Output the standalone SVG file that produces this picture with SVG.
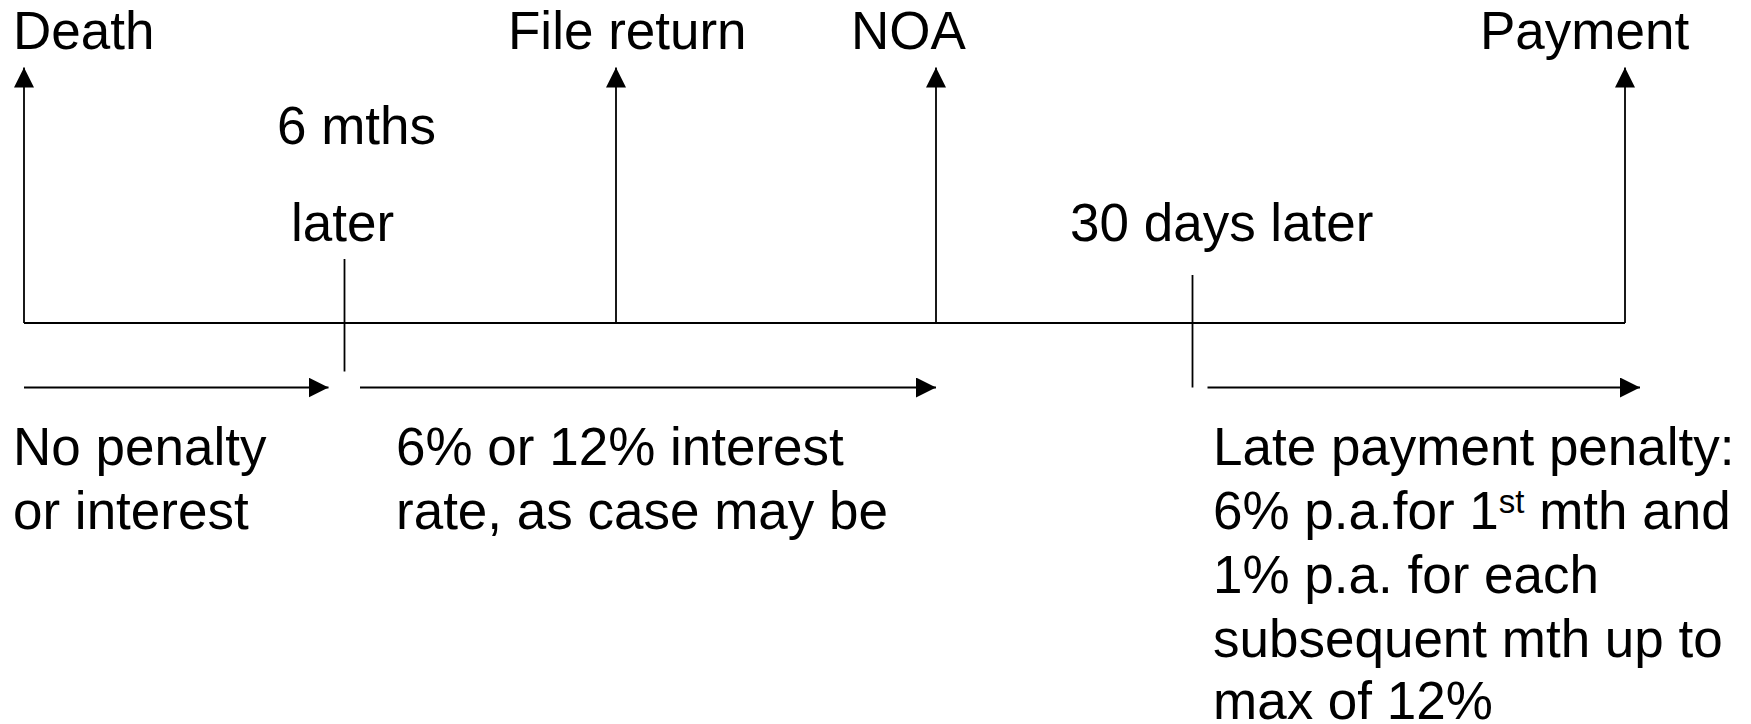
<svg xmlns="http://www.w3.org/2000/svg" width="1751" height="724" viewBox="0 0 1751 724">
  <style>
    .t { font-family: "Liberation Sans", Arial, sans-serif; font-size: 53px; fill: #000; }
    .ln { stroke: #000; stroke-width: 1.8; fill: none; }
  </style>
  <defs>
    <marker id="ah" viewBox="0 0 20 20" refX="20" refY="10" markerWidth="20" markerHeight="20" markerUnits="userSpaceOnUse" orient="auto">
      <path d="M0,0 L20,10 L0,20 Z" fill="#000"/>
    </marker>
  </defs>
  <rect width="1751" height="724" fill="#fff"/>

  <!-- timeline base and event arrows -->
  <g id="connectors">
    <line class="ln" x1="24" y1="323" x2="1625" y2="323"/>
    <line class="ln" x1="24" y1="323" x2="24" y2="67.5" marker-end="url(#ah)"/>
    <line class="ln" x1="616" y1="323" x2="616" y2="67.5" marker-end="url(#ah)"/>
    <line class="ln" x1="936" y1="323" x2="936" y2="67.5" marker-end="url(#ah)"/>
    <line class="ln" x1="1625" y1="323" x2="1625" y2="67.5" marker-end="url(#ah)"/>
    <!-- period ticks -->
    <line class="ln" x1="344.5" y1="259" x2="344.5" y2="371.5"/>
    <line class="ln" x1="1192.5" y1="275" x2="1192.5" y2="387.5"/>
    <!-- period span arrows -->
    <line class="ln" x1="24" y1="387.5" x2="328.5" y2="387.5" marker-end="url(#ah)"/>
    <line class="ln" x1="360" y1="387.5" x2="936" y2="387.5" marker-end="url(#ah)"/>
    <line class="ln" x1="1207.5" y1="387.5" x2="1640" y2="387.5" marker-end="url(#ah)"/>
  </g>

  <g id="death"><text class="t" x="13" y="48.5">Death</text></g>
  <g id="file-return"><text class="t" x="508" y="48.5">File return</text></g>
  <g id="noa"><text class="t" x="851" y="48.5">NOA</text></g>
  <g id="payment"><text class="t" x="1480" y="48.5">Payment</text></g>

  <g id="six-months">
    <text class="t" x="277" y="144">6 mths</text>
    <text class="t" x="291" y="241">later</text>
  </g>
  <g id="thirty-days"><text class="t" x="1070" y="241">30 days later</text></g>

  <g id="no-penalty">
    <text class="t" x="13" y="465">No penalty</text>
    <text class="t" x="13" y="529">or interest</text>
  </g>
  <g id="interest-rate">
    <text class="t" x="396" y="465">6% or 12% interest</text>
    <text class="t" x="396" y="529">rate, as case may be</text>
  </g>
  <g id="late-payment">
    <text class="t" x="1213" y="465">Late payment penalty:</text>
    <text class="t" x="1213" y="529">6% p.a.for 1<tspan font-size="33" dy="-16">st</tspan><tspan dy="16"> mth and</tspan></text>
    <text class="t" x="1213" y="593">1% p.a. for each</text>
    <text class="t" x="1213" y="657">subsequent mth up to</text>
    <text class="t" x="1213" y="719">max of 12%</text>
  </g>
</svg>
